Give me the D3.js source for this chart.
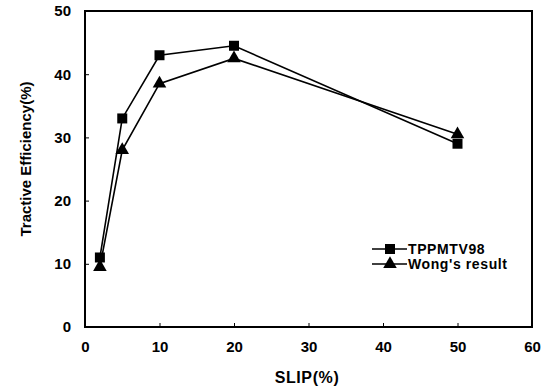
<!DOCTYPE html>
<html>
<head>
<meta charset="utf-8">
<script src="https://cdn.jsdelivr.net/npm/d3@7"></script>
<style>
  body { margin: 0; background: #fff; }
  text { font-family: "Liberation Sans", Arial, sans-serif; font-weight: bold; fill: #000; }
</style>
</head>
<body>
<svg id="chart" width="552" height="389"></svg>
<script>
// data
var slip = [2, 5, 10, 20, 50]
var tppmtv = [11, 33, 43, 44.5, 29]
var wong = [9.5, 28, 38.5, 42.5, 30.5]
var xTicks = [0, 10, 20, 30, 40, 50, 60]
var yTicks = [0, 10, 20, 30, 40, 50]

var margin = { top: 11, right: 20, bottom: 62, left: 85 }
var width = 552 - margin.left - margin.right
var height = 389 - margin.top - margin.bottom

var svg = d3.select("#chart")
var g = svg.append("g")
  .attr("transform", "translate(" + margin.left + "," + margin.top + ")")

var x = d3.scaleLinear().domain([0, 60]).range([0, width])
var y = d3.scaleLinear().domain([0, 50]).range([height, 0])

// axes, ticks pointing inwards
var xAxis = g.append("g")
  .attr("transform", "translate(0," + height + ")")
  .call(d3.axisBottom(x).tickValues(xTicks).tickSize(-4).tickPadding(14))
var yAxis = g.append("g")
  .call(d3.axisLeft(y).tickValues(yTicks).tickSize(-4).tickPadding(14))

xAxis.selectAll("text").style("font-size", "15px")
yAxis.selectAll("text").style("font-size", "15px")
xAxis.select(".domain").remove()
yAxis.select(".domain").remove()

// frame
g.append("rect")
  .attr("width", width)
  .attr("height", height)
  .attr("fill", "none")
  .attr("stroke", "#000")
  .attr("stroke-width", 2)

var line = d3.line()
  .x(function(d, i) { return x(slip[i]) })
  .y(function(d) { return y(d) })

g.append("path").datum(tppmtv)
  .attr("d", line).attr("fill", "none").attr("stroke", "#000").attr("stroke-width", 1.6)
g.append("path").datum(wong)
  .attr("d", line).attr("fill", "none").attr("stroke", "#000").attr("stroke-width", 1.6)

var square = d3.symbol().type(d3.symbolSquare).size(100)
var triangle = d3.symbol().type(d3.symbolTriangle).size(80)

g.selectAll(".sq").data(tppmtv).enter().append("path")
  .attr("class", "sq")
  .attr("d", square)
  .attr("transform", function(d, i) { return "translate(" + x(slip[i]) + "," + y(d) + ")" })
g.selectAll(".tri").data(wong).enter().append("path")
  .attr("class", "tri")
  .attr("d", triangle)
  .attr("transform", function(d, i) { return "translate(" + x(slip[i]) + "," + y(d) + ")" })

// legend
var legend = g.append("g").attr("transform", "translate(287,238)")
var items = [{ name: "TPPMTV98", sym: square }, { name: "Wong's result", sym: triangle }]
items.forEach(function(it, i) {
  var row = legend.append("g").attr("transform", "translate(0," + (i * 15) + ")")
  row.append("line").attr("x1", 0).attr("x2", 35).attr("stroke", "#000").attr("stroke-width", 1.6)
  row.append("path").attr("d", it.sym).attr("transform", "translate(18,0)")
  row.append("text").attr("x", 36).attr("dy", "0.36em")
    .style("font-size", "14px").style("letter-spacing", "0.6px").text(it.name)
})

// axis titles
svg.append("text")
  .attr("transform", "translate(31,159) rotate(-90)")
  .attr("text-anchor", "middle")
  .style("font-size", "15px")
  .text("Tractive Efficiency(%)")

svg.append("text")
  .attr("x", 307)
  .attr("y", 383)
  .attr("text-anchor", "middle")
  .style("font-size", "16px")
  .style("letter-spacing", "0.6px")
  .text("SLIP(%)")
</script>
</body>
</html>
